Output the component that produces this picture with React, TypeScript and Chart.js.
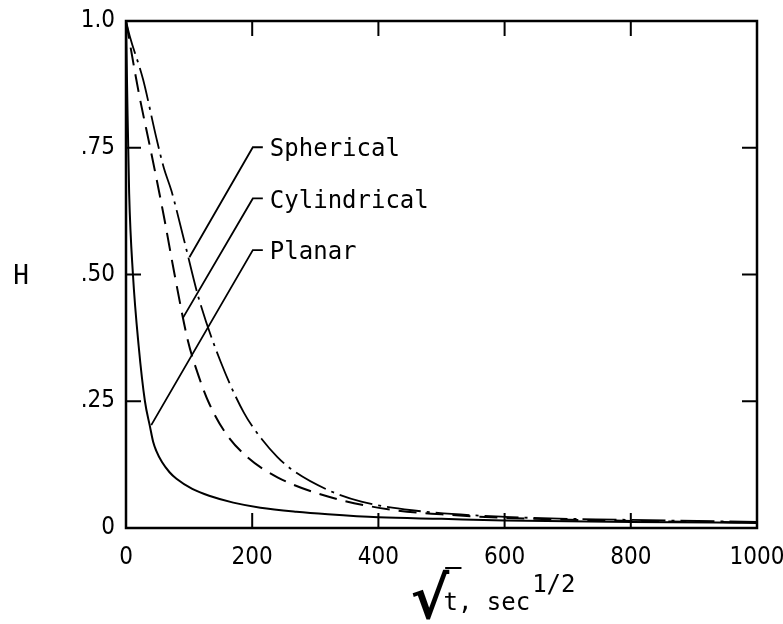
import { useEffect, useRef } from "react";
import { Chart, registerables } from "chart.js";

Chart.register(...registerables);

// ---- data ----
const PLANAR_X = [0, 2, 5, 11, 20, 30, 38, 43, 48, 57, 69, 80, 105, 133, 170, 213, 270, 320, 400, 500, 600, 800, 1000];
const PLANAR_H = [1, 0.85, 0.66, 0.5, 0.36, 0.25, 0.2, 0.17, 0.152, 0.13, 0.11, 0.097, 0.077, 0.063, 0.05, 0.04, 0.032, 0.027, 0.021, 0.018, 0.015, 0.012, 0.01];

const CYL_X = [0, 20, 40, 60, 77, 98, 115, 132, 158, 192, 240, 320, 426, 500, 600, 800, 1000];
const CYL_H = [1, 0.86, 0.74, 0.615, 0.5, 0.37, 0.3, 0.245, 0.187, 0.14, 0.1, 0.062, 0.035, 0.027, 0.02, 0.014, 0.011];

const SPH_X = [0, 6, 27, 48, 60, 72, 92, 116, 150, 187, 216, 240, 263, 320, 373, 453, 600, 800, 1000];
const SPH_H = [1, 0.97, 0.885, 0.77, 0.71, 0.665, 0.568, 0.45, 0.328, 0.227, 0.174, 0.14, 0.115, 0.075, 0.052, 0.035, 0.022, 0.016, 0.012];

const X_TICKS = [0, 200, 400, 600, 800, 1000];
const X_TICK_LABELS = ["0", "200", "400", "600", "800", "1000"];
const Y_TICKS = [0, 0.25, 0.5, 0.75, 1];
const Y_TICK_LABELS = ["0", ".25", ".50", ".75", "1.0"];
const X_INNER_MARKS = [200, 400, 600, 800];
const Y_INNER_MARKS = [0.25, 0.5, 0.75];

// annotation labels: text, point on curve [x, H], elbow [x, H]
const ANNOT_TEXT = ["Spherical", "Cylindrical", "Planar"];
const ANNOT_FROM = [[100.5, 0.534], [90, 0.414], [40, 0.203]];
const ANNOT_ELBOW = [[201, 0.751], [201, 0.65], [201, 0.548]];

const Y_TITLE = "H";
const X_TITLE = ["√", "t, sec", "1/2"];

const MONO = "'DejaVu Sans Mono', 'Liberation Mono', monospace";
const NARROW = "'Liberation Sans Narrow', 'DejaVu Sans Condensed', 'Liberation Sans', sans-serif";

const pts = (xs: number[], ys: number[]) => xs.map((x, i) => ({ x, y: ys[i] }));

const decorPlugin = {
  id: "decor",
  afterDatasetsDraw(chart: any) {
    const { ctx, chartArea: a, scales } = chart;
    const xs = scales.x;
    const ys = scales.y;
    ctx.save();
    ctx.strokeStyle = "#000";
    ctx.fillStyle = "#000";
    ctx.lineCap = "butt";
    // frame
    ctx.lineWidth = 2.5;
    ctx.strokeRect(a.left, a.top, a.right - a.left, a.bottom - a.top);
    // inner tick marks
    ctx.lineWidth = 2;
    const L = 15;
    ctx.beginPath();
    for (const v of X_INNER_MARKS) {
      const px = xs.getPixelForValue(v);
      ctx.moveTo(px, a.bottom);
      ctx.lineTo(px, a.bottom - L);
      ctx.moveTo(px, a.top);
      ctx.lineTo(px, a.top + L);
    }
    for (const v of Y_INNER_MARKS) {
      const py = ys.getPixelForValue(v);
      ctx.moveTo(a.left, py);
      ctx.lineTo(a.left + L, py);
      ctx.moveTo(a.right, py);
      ctx.lineTo(a.right - L, py);
    }
    ctx.stroke();

    // annotations
    ctx.lineWidth = 1.8;
    ctx.font = `24px ${MONO}`;
    ctx.textBaseline = "middle";
    ctx.textAlign = "left";
    ANNOT_TEXT.forEach((t, i) => {
      const fx = xs.getPixelForValue(ANNOT_FROM[i][0]);
      const fy = ys.getPixelForValue(ANNOT_FROM[i][1]);
      const ex = xs.getPixelForValue(ANNOT_ELBOW[i][0]);
      const ey = ys.getPixelForValue(ANNOT_ELBOW[i][1]);
      ctx.beginPath();
      ctx.moveTo(fx, fy);
      ctx.lineTo(ex, ey);
      ctx.lineTo(ex + 10, ey);
      ctx.stroke();
      ctx.fillText(t, ex + 17, ey + 3);
    });

    // y title
    ctx.font = `26px ${MONO}`;
    ctx.textAlign = "center";
    ctx.fillText(Y_TITLE, 21, ys.getPixelForValue(0.5) + 3);

    // x title
    const base = a.bottom + 82;
    const x0 = xs.getPixelForValue(454);
    ctx.textBaseline = "alphabetic";
    ctx.textAlign = "left";
    ctx.font = `bold 58px 'DejaVu Sans', sans-serif`;
    ctx.fillText(X_TITLE[0], x0 - 2, base + 8);
    const rw = ctx.measureText(X_TITLE[0]).width;
    ctx.font = `24px ${MONO}`;
    const tx = x0 + 31;
    ctx.fillText(X_TITLE[1], tx, base);
    const w1 = ctx.measureText(X_TITLE[1]).width;
    ctx.fillText(X_TITLE[2], tx + w1 + 2, base - 18);
    ctx.lineWidth = 2;
    ctx.beginPath();
    ctx.moveTo(x0 - 2 + rw - 4, base - 42);
    ctx.lineTo(tx + 18, base - 42);
    ctx.stroke();
    ctx.restore();
  },
};

export default function App() {
  const ref = useRef<HTMLCanvasElement | null>(null);
  useEffect(() => {
    document.body.style.margin = "0";
    const canvas = ref.current;
    if (!canvas) return;
    const chart = new Chart(canvas, {
      type: "line",
      data: {
        datasets: [
          {
            label: "Planar",
            data: pts(PLANAR_X, PLANAR_H),
            borderColor: "#000",
            borderWidth: 2,
            pointRadius: 0,
            cubicInterpolationMode: "monotone",
          },
          {
            label: "Cylindrical",
            data: pts(CYL_X, CYL_H),
            borderColor: "#000",
            borderWidth: 2,
            borderDash: [18, 9],
            pointRadius: 0,
            cubicInterpolationMode: "monotone",
          },
          {
            label: "Spherical",
            data: pts(SPH_X, SPH_H),
            borderColor: "#000",
            borderWidth: 1.8,
            borderDash: [34, 6, 3, 6],
            pointRadius: 0,
            cubicInterpolationMode: "monotone",
          },
        ],
      },
      options: {
        responsive: false,
        animation: false,
        layout: { padding: { top: 21, right: 26, left: 0, bottom: 0 } },
        plugins: { legend: { display: false }, tooltip: { enabled: false }, title: { display: false } },
        scales: {
          x: {
            type: "linear",
            min: 0,
            max: 1000,
            grid: { display: false, drawTicks: false },
            border: { display: false },
            afterBuildTicks: (s: any) => {
              s.ticks = X_TICKS.map((v) => ({ value: v }));
            },
            afterFit: (s: any) => {
              s.height = 96;
              s.paddingRight = 0;
              s.paddingLeft = 0;
            },
            ticks: {
              color: "#000",
              padding: 15,
              maxRotation: 0,
              autoSkip: false,
              font: { family: NARROW, size: 24 },
              callback: (v: any) => {
                const i = X_TICKS.indexOf(Number(v));
                return i >= 0 ? X_TICK_LABELS[i] : "";
              },
            },
          },
          y: {
            type: "linear",
            min: 0,
            max: 1,
            grid: { display: false, drawTicks: false },
            border: { display: false },
            afterBuildTicks: (s: any) => {
              s.ticks = Y_TICKS.map((v) => ({ value: v }));
            },
            afterFit: (s: any) => {
              s.width = 126;
              s.paddingTop = 0;
              s.paddingBottom = 0;
            },
            ticks: {
              color: "#000",
              padding: 11,
              autoSkip: false,
              font: { family: NARROW, size: 24 },
              callback: (v: any) => {
                const i = Y_TICKS.indexOf(Number(v));
                return i >= 0 ? Y_TICK_LABELS[i] : "";
              },
            },
          },
        },
      },
      plugins: [decorPlugin],
    } as any);
    return () => chart.destroy();
  }, []);
  return (
    <div style={{ width: 783, height: 624, background: "#fff" }}>
      <canvas ref={ref} width={783} height={624} style={{ display: "block" }} />
    </div>
  );
}
